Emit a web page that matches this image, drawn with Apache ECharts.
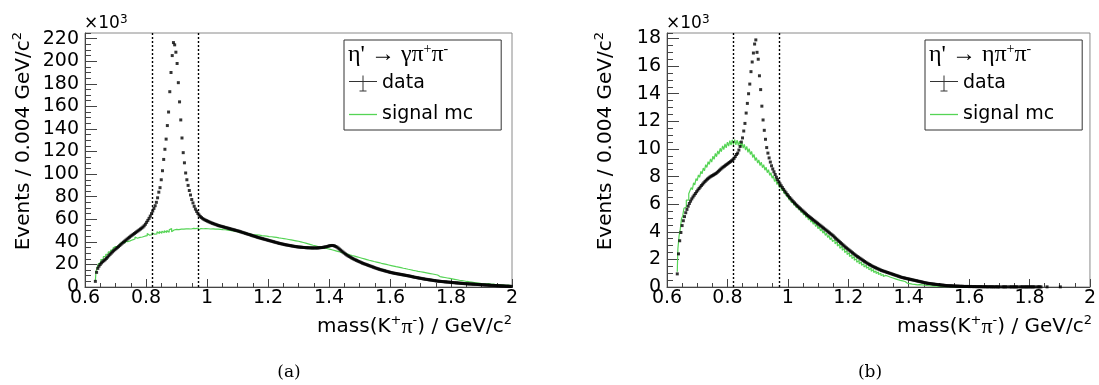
<!DOCTYPE html>
<html>
<head>
<meta charset="utf-8">
<script src="https://cdn.jsdelivr.net/npm/echarts/dist/echarts.min.js"></script>
<style>
html,body{margin:0;padding:0;background:#fff;}
#chart{width:1099px;height:385px;}
</style>
</head>
<body>
<div id="chart"></div>
<script>
// ---- binning (GeV/c^2) ----
const firstBinLow = 0.632;   // lower edge of first filled bin
const binWidth = 0.004;
const xRange = [0.6, 2.0];
const cutLines = [0.82, 0.97];
const yMaxA = 225, yMaxB = 18.4;   // in units of 10^3 events

// (a) eta' -> gamma pi+ pi- : data (x10^3)
const dataA = [
5,13,16.5,18.5,20,21.3,22.4,23.3,24.2,25.3,
26.5,27.7,28.9,30,31.1,32.1,33.1,34,34.9,35.8,
36.8,37.8,38.8,39.7,40.6,41.5,42.4,43.3,44.1,45,
45.8,46.6,47.4,48.2,49,49.8,50.6,51.4,52.2,53.1,
54.2,55.6,57.3,59,60.8,62.8,65,67.3,69.6,72,
75,79,84,88,95,103,113,122,131,143,
155,173,190,205,216.5,214.5,208,198,181,164,
148,132,119,110,101,95,90,85.5,81.5,77.5,
74.5,71.5,69,67,65.2,63.7,62.5,61.5,60.6,59.9,
59.3,58.8,58.3,57.8,57.3,56.8,56.4,56,55.6,55.2,
54.8,54.4,54.1,53.8,53.5,53.2,52.9,52.6,52.3,52,
51.7,51.4,51.1,50.8,50.5,50.2,49.9,49.6,49.3,48.9,
48.6,48.2,47.9,47.5,47.2,46.8,46.5,46.1,45.8,45.4,
45.1,44.7,44.4,44,43.7,43.4,43.1,42.8,42.5,42.2,
41.9,41.6,41.3,41,40.7,40.4,40.1,39.8,39.5,39.2,
38.9,38.6,38.4,38.1,37.9,37.6,37.4,37.2,37,36.8,
36.6,36.4,36.2,36,35.8,35.7,35.5,35.4,35.3,35.2,
35.1,35,34.9,34.8,34.8,34.7,34.7,34.6,34.6,34.6,
34.6,34.6,34.6,34.7,34.8,34.9,35,35.2,35.4,35.6,
35.9,36.2,36.5,36.7,36.8,36.7,36.4,35.9,35.3,34.5,
33.6,32.7,31.8,30.9,30,29.2,28.4,27.7,27,26.4,
25.8,25.2,24.6,24.1,23.6,23.1,22.6,22.1,21.6,21.1,
20.7,20.3,19.9,19.5,19.1,18.7,18.3,17.9,17.5,17.1,
16.7,16.3,16,15.6,15.3,15,14.7,14.4,14.1,13.8,
13.5,13.2,12.9,12.7,12.4,12.2,12,11.8,11.6,11.4,
11.2,11,10.8,10.6,10.4,10.2,10,9.8,9.6,9.3,
9.1,8.8,8.6,8.4,8.2,8,7.8,7.6,7.4,7.2,
7,6.8,6.7,6.5,6.3,6.2,6,5.8,5.7,5.5,
5.3,5.2,5.05,4.95,4.85,4.75,4.65,4.55,4.45,4.35,
4.25,4.15,4.05,3.95,3.85,3.75,3.65,3.55,3.45,3.35,
3.25,3.15,3.05,2.98,2.9,2.83,2.76,2.69,2.62,2.55,
2.48,2.41,2.34,2.27,2.2,2.13,2.06,1.99,1.92,1.85,
1.78,1.71,1.64,1.57,1.5,1.44,1.38,1.32,1.26,1.2,
1.14,1.08,1.02,0.96,0.9,0.84,0.78,0.73,0.68,0.63,
0.58,0.53];

// (a) signal MC (x10^3)
const mcA = [
5.5,13.8,17.1,20.6,21.7,24.3,24.6,26.9,27.0,28.9,
29.0,31.1,30.9,32.8,32.6,34.5,34.1,35.9,35.6,37.3,
36.8,38.6,38.1,39.8,39.0,40.9,40.2,41.7,40.9,42.6,
41.8,43.4,42.5,44.3,43.2,44.9,43.9,45.6,44.3,46.0,
45.0,46.7,45.5,47.3,45.9,47.6,46.3,48.1,46.8,48.4,
47.0,48.9,47.4,49.2,47.6,49.5,48.0,49.8,48.2,50.1,
48.5,50.6,51.8,49.0,50.5,49.1,51.0,49.4,50.9,49.6,
51.2,49.7,51.3,49.9,51.5,50.0,51.6,50.1,51.4,50.2,
51.9,50.3,51.7,50.4,52.3,50.5,51.8,50.2,51.6,50.4,
51.7,50.3,51.6,50.2,51.4,50.1,51.5,50.0,51.3,49.9,
51.2,49.8,51.0,49.6,50.8,49.3,50.7,49.1,50.4,48.9,
50.1,48.6,49.8,48.3,49.4,47.9,49.0,47.5,48.6,47.1,
48.2,46.7,47.8,46.3,47.4,45.9,47.0,45.6,46.5,45.2,
46.3,45.0,46.1,44.8,45.9,44.6,45.5,44.2,45.3,43.9,
45.0,43.7,44.7,43.4,44.5,43.1,44.2,42.8,43.9,42.5,
43.5,42.2,43.2,41.9,42.9,41.5,42.5,41.1,42.1,40.8,
41.7,40.3,41.3,39.9,40.9,39.5,40.5,39.0,40.0,38.6,
39.4,37.9,38.8,37.4,38.2,36.8,37.6,36.2,37.0,35.7,
36.5,35.1,35.9,34.6,35.4,34.0,34.9,33.5,34.4,33.0,
33.9,32.5,33.4,32.0,32.8,31.3,32.2,30.7,31.6,30.1,
31.0,29.6,30.4,28.9,29.8,28.3,29.2,27.8,28.6,27.2,
27.9,26.6,27.3,26.0,26.7,25.4,26.1,24.8,25.5,24.2,
24.9,23.6,24.3,23.0,23.7,22.5,23.2,21.9,22.6,21.4,
22.1,20.8,21.6,20.3,21.0,19.8,20.5,19.3,20.0,18.8,
19.5,18.3,19.0,17.8,18.5,17.3,18.0,16.8,17.6,16.3,
17.1,15.9,16.6,15.4,16.2,14.9,15.7,14.5,15.3,14.0,
14.8,13.6,14.4,13.2,13.9,12.7,13.5,12.3,13.1,11.9,
12.7,11.5,12.3,11.1,11.9,10.7,11.5,10.3,11.1,9.9,
10.6,9.6,10.2,9.2,9.8,8.8,9.4,8.4,9.0,8.0,
8.6,7.6,8.2,7.2,7.8,6.8,7.4,6.4,7.0,6.0,
6.6,5.7,6.1,5.3,5.7,4.9,5.3,4.6,5.0,4.3,
4.7,4.0,4.4,3.7,4.1,3.4,3.8,3.1,3.5,2.9,
3.3,2.7,3.0,2.5,2.8,2.3,2.6,2.1,2.4,1.9,
2.2,1.8,2.0,1.6,1.9,1.5,1.7,1.3,1.6,1.2,
1.4,1.1];

// (b) eta' -> eta pi+ pi- : data (x10^3)
const dataB = [
0.95,2.4,3.35,3.95,4.45,4.8,5.1,5.38,5.62,5.85,
6.05,6.22,6.38,6.52,6.65,6.77,6.9,7.02,7.13,7.24,
7.35,7.45,7.55,7.65,7.74,7.82,7.89,7.96,8.02,8.07,
8.12,8.17,8.22,8.3,8.38,8.46,8.54,8.62,8.69,8.75,
8.82,8.88,8.95,9.02,9.08,9.15,9.22,9.32,9.45,9.6,
9.7,9.92,10.18,10.5,10.8,11.3,11.85,12.6,13.3,14.0,
14.7,15.6,16.3,16.95,17.6,17.9,17.0,16.5,15.3,14.3,
13.1,12.1,11.35,10.7,10.1,9.7,9.35,9.05,8.78,8.55,
8.35,8.15,7.95,7.78,7.62,7.47,7.33,7.2,7.07,6.94,
6.82,6.7,6.59,6.48,6.38,6.28,6.18,6.09,6.0,5.91,
5.82,5.74,5.66,5.58,5.5,5.42,5.34,5.26,5.18,5.11,
5.04,4.97,4.9,4.83,4.76,4.69,4.62,4.55,4.48,4.41,
4.34,4.27,4.2,4.13,4.06,3.99,3.92,3.85,3.78,3.71,
3.62,3.54,3.46,3.38,3.3,3.22,3.14,3.06,2.98,2.9,
2.83,2.76,2.69,2.62,2.55,2.48,2.41,2.34,2.27,2.21,
2.15,2.09,2.03,1.97,1.91,1.85,1.79,1.73,1.68,1.63,
1.58,1.53,1.48,1.44,1.4,1.36,1.32,1.28,1.24,1.2,
1.17,1.14,1.11,1.08,1.05,1.02,0.99,0.96,0.93,0.9,
0.87,0.84,0.81,0.78,0.75,0.72,0.69,0.67,0.65,0.63,
0.61,0.59,0.57,0.55,0.53,0.51,0.49,0.47,0.45,0.43,
0.41,0.39,0.37,0.35,0.33,0.31,0.29,0.27,0.26,0.25,
0.24,0.22,0.21,0.2,0.19,0.18,0.17,0.16,0.15,0.14,
0.13,0.12,0.11,0.1,0.1,0.09,0.09,0.08,0.08,0.07,
0.07,0.06,0.06,0.06,0.05,0.05,0.05,0.04,0.04,0.04,
0.04,0.04,0.03,0.04,0.03,0.03,0.03,0.03,0.02,0.03,
0.02,0.03,0.02,0.02,0.02,0.02,0.02,0.01,0.02,0.02,
0.01,0.02,0.01,0.01,0.02,0.01,0.01,0.01,null,0.01,
0.01,0.01,0.01,0.01,null,0.01,0.01,0.01,0.01,0.01,
0.01,0.01,0.01,null,0.01,0.01,0.01,0.01,0.01,0.01,
0.01,0.01,0.01,0.01,0.01,0.01,0.01,null,0.01,0.01,
0.01,0.01,null,null,null,null,0.01,null,null,null,
null,null,null,null,null,null,null,0.01,null,null];

// (b) signal MC (x10^3)
const mcB = [
1.1,2.75,3.7,4.2,4.95,5.15,5.7,5.8,6.3,6.3,
6.75,6.7,7.2,7.05,7.55,7.4,7.85,7.7,8.12,7.95,
8.38,8.2,8.62,8.42,8.86,8.66,9.08,8.88,9.28,9.05,
9.48,9.25,9.68,9.44,9.86,9.62,10.05,9.8,10.22,9.96,
10.36,10.08,10.5,10.2,10.6,10.28,10.66,10.32,10.68,10.3,
10.64,10.26,10.56,10.16,10.46,10.06,10.34,9.92,10.18,9.76,
10.02,9.6,9.82,9.38,9.6,9.16,9.38,8.98,9.2,8.8,
9.04,8.64,8.86,8.46,8.68,8.28,8.5,8.08,8.28,7.88,
8.05,7.64,7.82,7.42,7.6,7.2,7.38,6.98,7.14,6.75,
6.92,6.52,6.7,6.3,6.48,6.1,6.28,5.92,6.1,5.74,
5.92,5.57,5.75,5.39,5.56,5.21,5.38,5.03,5.2,4.86,
5.03,4.7,4.86,4.54,4.7,4.38,4.54,4.22,4.38,4.06,
4.22,3.9,4.06,3.74,3.9,3.58,3.74,3.43,3.58,3.29,
3.43,3.13,3.27,2.97,3.11,2.81,2.95,2.66,2.79,2.5,
2.62,2.35,2.48,2.21,2.34,2.07,2.2,1.93,2.06,1.8,
1.93,1.69,1.81,1.57,1.69,1.45,1.57,1.35,1.46,1.25,
1.36,1.15,1.26,1.06,1.16,0.98,1.08,0.91,1.0,0.83,
0.91,0.76,0.84,0.7,0.78,0.64,0.71,0.58,0.65,0.52,
0.59,0.47,0.53,0.42,0.48,0.38,0.44,0.34,0.4,0.3,
0.35,0.27,0.31,0.24,0.28,0.21,0.25,0.19,0.22,0.16,
0.17,0.16,0.15,0.14,0.13,0.12,0.11,0.1,0.09,0.09,
0.08,0.07,0.07,0.06,0.06,0.05,0.05,0.04,0.04,0.04,
0.03,0.03,0.03,0.02,0.02,0.02,0.02,0.01,0.01,0.01,
0.01,0.01,0.01,0.01,0.01,0.01,0,0.01,0,0];

const legendTitles = ["η' → γπ", "η' → ηπ"];
const captions = ['(a)', '(b)'];

// ---- helpers ----
function toPoints(arr) {
  return arr.map((v, i) => [+(firstBinLow + binWidth * (i + 0.5)).toFixed(4), v]);
}
const SANS = 'DejaVu Sans';
const SERIF = 'Liberation Serif';
const GREEN = '#55d455';
const panels = [
  { left: 85, width: 427, yMax: yMaxA, yInt: 20, yMinor: 5, data: dataA, mc: mcA, title: legendTitles[0], cap: captions[0], legendLeft: 344, expSize: 17 },
  { left: 667, width: 425, yMax: yMaxB, yInt: 2, yMinor: 0.5, data: dataB, mc: mcB, title: legendTitles[1], cap: captions[1], legendLeft: 925, expSize: 17 }
];
const TOP = 33, HEIGHT = 254;

const dataIcon = 'path://M0,5.5H28V6.5H0Z M13.5,0H14.5V16H13.5Z M10.5,15H17.5V16H10.5Z';
const lineIcon = 'path://M0,0H28V1.3H0Z';

const option = {
  animation: false,
  backgroundColor: '#fff',
  grid: [], xAxis: [], yAxis: [], series: [], legend: [], graphic: []
};

panels.forEach((p, k) => {
  option.grid.push({ left: p.left, top: TOP, width: p.width, height: HEIGHT, show: true,
    borderColor: '#8a8a8a', borderWidth: 1, backgroundColor: 'transparent' });
  option.xAxis.push({
    type: 'value', gridIndex: k, min: xRange[0], max: xRange[1], interval: 0.2,
    axisLine: { show: true, onZero: false, lineStyle: { color: '#444', width: 1 } },
    axisTick: { show: true, inside: true, length: 8, lineStyle: { color: '#444' } },
    minorTick: { show: true, splitNumber: 4, length: 4, lineStyle: { color: '#444' } },
    axisLabel: { fontFamily: SANS, fontSize: 19, color: '#000', margin: 2 },
    splitLine: { show: false }
  });
  option.yAxis.push({
    type: 'value', gridIndex: k, min: 0, max: p.yMax, interval: p.yInt, position: 'left',
    axisLine: { show: true, lineStyle: { color: '#444', width: 1 } },
    axisTick: { show: true, inside: true, length: 12, lineStyle: { color: '#444' } },
    axisLabel: { fontFamily: SANS, fontSize: 19, color: '#000', margin: 6, showMaxLabel: false },
    splitLine: { show: false }
  });
  option.yAxis.push({
    type: 'value', gridIndex: k, min: 0, max: p.yMax, interval: p.yMinor, position: 'left',
    axisLine: { show: false },
    axisTick: { show: true, inside: true, length: 6, lineStyle: { color: '#444' } },
    axisLabel: { show: false }, splitLine: { show: false }
  });
  option.series.push({
    name: 'signal mc', type: 'line', xAxisIndex: k, yAxisIndex: 2 * k, data: toPoints(p.mc),
    step: 'middle', showSymbol: false, symbol: 'none', color: GREEN,
    lineStyle: { color: GREEN, width: 1.2 }, z: 2, silent: true
  });
  option.series.push({
    name: 'data', type: 'scatter', xAxisIndex: k, yAxisIndex: 2 * k, data: toPoints(p.data),
    symbol: 'rect', symbolSize: 3, color: '#000', itemStyle: { color: '#000' }, z: 3, silent: true,
    markLine: {
      silent: true, symbol: ['none', 'none'], label: { show: false },
      lineStyle: { color: '#000', type: [2, 2], width: 1.4 },
      data: cutLines.map(v => ({ xAxis: v }))
    }
  });
  option.legend.push({
    orient: 'vertical', left: p.legendLeft, top: 40, selectedMode: false,
    data: [{ name: 'data', icon: dataIcon }, { name: 'signal mc', icon: lineIcon }],
    itemWidth: 28, itemHeight: 16, itemGap: 12, symbolKeepAspect: true,
    textStyle: { fontFamily: SANS, fontSize: 19, color: '#000' },
    borderColor: '#333', borderWidth: 1, padding: [34, 28, 6, 5], backgroundColor: '#fff'
  });
  // legend header
  option.graphic.push({
    type: 'text', x: p.legendLeft + 4, y: 55, z: 100,
    style: {
      text: '{n|' + p.title + '}{s|+}{n|π}{s|-}',
      verticalAlign: 'middle', align: 'left', fill: '#000',
      rich: {
        n: { fontFamily: SERIF, fontSize: 24, lineHeight: 26 },
        s: { fontFamily: SERIF, fontSize: 14, lineHeight: 14, verticalAlign: 'top' }
      }
    }
  });
  // exponent label
  option.graphic.push({
    type: 'text', x: p.left - 1, y: 24,
    style: {
      text: '{n|×10}{s|3}', verticalAlign: 'middle', align: 'left', fill: '#000',
      rich: {
        n: { fontFamily: SANS, fontSize: p.expSize, lineHeight: p.expSize + 4 },
        s: { fontFamily: SANS, fontSize: Math.round(p.expSize * 0.7), lineHeight: Math.round(p.expSize * 0.7), verticalAlign: 'top' }
      }
    }
  });
  // x title
  option.graphic.push({
    type: 'text', x: p.left + p.width, y: 327,
    style: {
      text: '{t|mass(K}{s|+}{p|π}{s|-}{t|) / GeV/c}{s|2}', align: 'right', verticalAlign: 'middle', fill: '#000',
      rich: {
        t: { fontFamily: SANS, fontSize: 20, lineHeight: 26 },
        p: { fontFamily: SERIF, fontSize: 22, lineHeight: 26 },
        s: { fontFamily: SANS, fontSize: 13, lineHeight: 13, verticalAlign: 'top' }
      }
    }
  });
  // y title
  option.graphic.push({
    type: 'text', x: p.left - 61, y: 32, rotation: Math.PI / 2,
    style: {
      text: '{t|Events / 0.004 GeV/c}{s|2}', align: 'right', verticalAlign: 'middle', fill: '#000',
      rich: {
        t: { fontFamily: SANS, fontSize: 20, lineHeight: 26 },
        s: { fontFamily: SANS, fontSize: 13, lineHeight: 13, verticalAlign: 'top' }
      }
    }
  });
  // caption
  option.graphic.push({
    type: 'text', x: k === 0 ? 289 : 870, y: 373,
    style: { text: p.cap, align: 'center', verticalAlign: 'middle', fill: '#000',
      fontFamily: 'DejaVu Serif', fontSize: 17 }
  });
});

const chart = echarts.init(document.getElementById('chart'), null, { renderer: 'canvas' });
chart.setOption(option);
</script>
</body>
</html>
